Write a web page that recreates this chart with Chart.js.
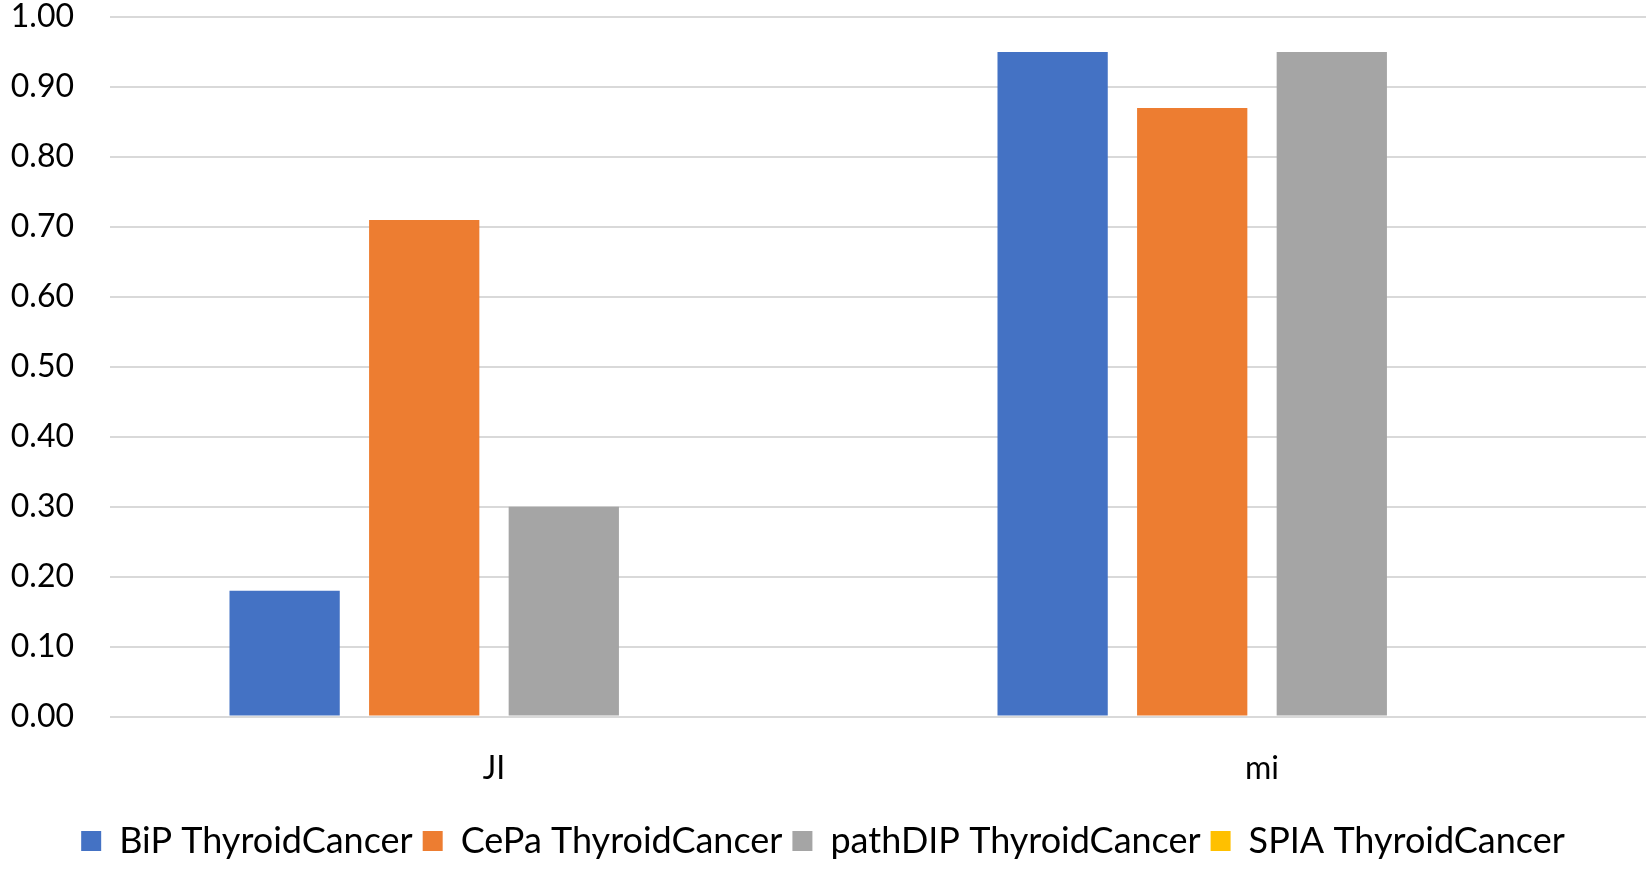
<!DOCTYPE html>
<html>
<head>
<meta charset="utf-8">
<script src="https://cdn.jsdelivr.net/npm/chart.js@4"></script>
<style>
  html, body { margin: 0; padding: 0; background: #fff; }
  #wrap { width: 1652px; height: 869px; }
</style>
</head>
<body>
<div id="wrap"><canvas id="chart"></canvas></div>
<script>
const categories = ['JI', 'mi'];
const seriesNames = ['BiP ThyroidCancer', 'CePa ThyroidCancer', 'pathDIP ThyroidCancer', 'SPIA ThyroidCancer'];
const bipValues = [0.18, 0.95];
const cepaValues = [0.71, 0.87];
const pathdipValues = [0.30, 0.95];
const spiaValues = [0, 0];
const seriesColors = ['#4472C4', '#ED7D31', '#A5A5A5', '#FFC000'];

const font = "Lato, 'Noto Sans', sans-serif";

const data = {
  labels: categories,
  datasets: [bipValues, cepaValues, pathdipValues, spiaValues].map((vals, i) => ({
    label: seriesNames[i],
    data: vals,
    backgroundColor: seriesColors[i],
    borderWidth: 0,
    categoryPercentage: 0.727,
    barPercentage: 0.79
  }))
};

const config = {
  type: 'bar',
  data: data,
  options: {
    responsive: true,
    maintainAspectRatio: false,
    animation: false,
    layout: { padding: { top: 17, right: 6, bottom: 0, left: 0 } },
    plugins: {
      tooltip: { enabled: false },
      legend: {
        position: 'bottom',
        labels: {
          color: '#000',
          font: { family: font, size: 36 },
          boxWidth: 20,
          boxHeight: 20,
          padding: 10
        }
      }
    },
    scales: {
      x: {
        grid: { display: false },
        border: { display: false },
        ticks: { color: '#000', font: { family: font, size: 32 }, padding: 25 }
      },
      y: {
        min: 0,
        max: 1,
        afterFit: (scale) => { scale.width = 110; scale.paddingTop = 0; },
        grid: { color: '#D9D9D9', lineWidth: 2, drawTicks: false },
        border: { display: false },
        ticks: {
          stepSize: 0.1,
          color: '#000',
          font: { family: font, size: 32 },
          padding: 36,
          callback: (v) => Number(v).toFixed(2)
        }
      }
    }
  }
};

new Chart(document.getElementById('chart'), config);
</script>
</body>
</html>
